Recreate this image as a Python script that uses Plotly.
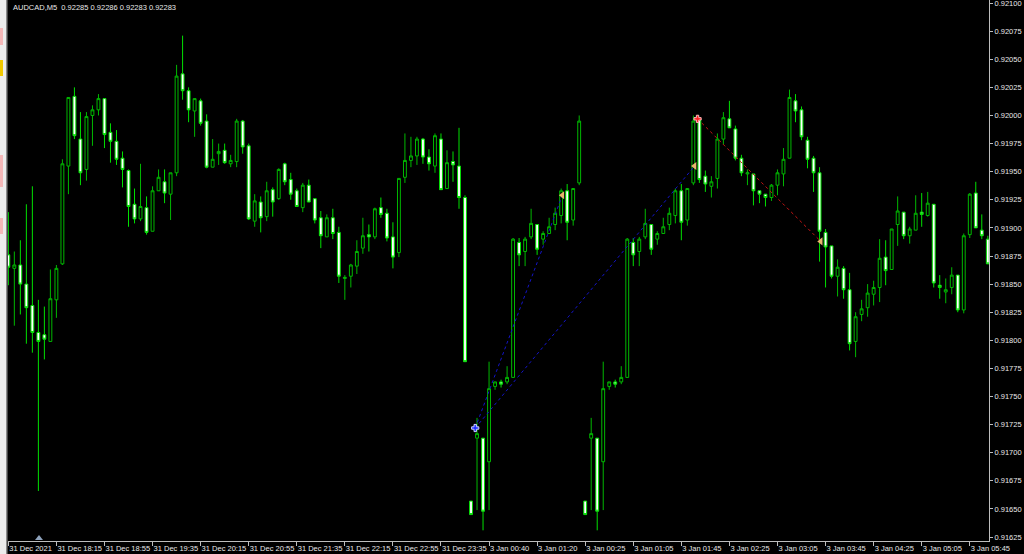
import plotly.graph_objects as go

# ---- data (AUDCAD M5 candles) ----
opens = [0.91876,0.91864,0.91867,0.91850,0.91831,0.91807,0.91805,0.91799,0.91836,0.91868,
         0.91955,0.92017,0.91979,0.91952,0.92000,0.92005,0.92015,0.91985,0.91977,0.91962,
         0.91951,0.91921,0.91908,0.91918,0.91897,0.91933,0.91941,0.91930,0.91949,0.92037,
         0.92022,0.92004,0.92013,0.91995,0.91954,0.91966,0.91969,0.91957,0.91959,0.91995,
         0.91973,0.91906,0.91923,0.91910,0.91934,0.91926,0.91957,0.91943,0.91933,0.91918,
         0.91938,0.91926,0.91909,0.91892,0.91909,0.91896,0.91855,0.91857,0.91866,0.91882,
         0.91894,0.91892,0.91918,0.91913,0.91892,0.91878,0.91945,0.91960,0.91964,0.91979,
         0.91963,0.91955,0.91979,0.91935,0.91959,0.91955,0.91927,
         0.91657,0.91713,0.91713,0.91692,0.91759,0.91763,0.91763,0.91767,0.91887,0.91879,
         0.91892,0.91903,0.91890,0.91895,0.91903,0.91911,0.91933,0.91907,0.91940,
         0.91657,0.91713,0.91713,0.91692,0.91759,0.91763,0.91763,0.91767,0.91887,0.91879,
         0.91892,0.91903,0.91890,0.91895,0.91903,0.91911,0.91933,0.91907,0.91940,
         0.91996,0.91946,0.91937,0.91944,0.91979,0.91997,0.91988,0.91962,0.91948,0.91948,
         0.91933,0.91930,0.91927,0.91938,0.91948,0.91962,0.92013,0.92005,0.91978,0.91962,
         0.91949,0.91896,0.91884,0.91857,0.91864,0.91845,0.91799,0.91823,0.91829,0.91841,
         0.91847,0.91874,0.91863,0.91903,0.91914,0.91893,0.91898,0.91914,0.91911,0.91921,
         0.91849,0.91843,0.91847,0.91858,0.91827,0.91894,0.91931,0.91898,0.91890]
highs = [0.91914,0.91879,0.91889,0.91921,0.91937,0.91836,0.91830,0.91863,0.91867,0.91961,
         0.92016,0.92025,0.92003,0.92003,0.92009,0.92019,0.92015,0.91993,0.91987,0.91968,
         0.91952,0.91935,0.91957,0.91928,0.91937,0.91952,0.91952,0.91949,0.92045,0.92071,
         0.92025,0.92015,0.92015,0.92001,0.91979,0.91975,0.91975,0.91965,0.91997,0.91996,
         0.91975,0.91930,0.91928,0.91941,0.91936,0.91953,0.91958,0.91949,0.91935,0.91940,
         0.91943,0.91926,0.91915,0.91912,0.91917,0.91901,0.91858,0.91868,0.91889,0.91909,
         0.91903,0.91918,0.91927,0.91917,0.91905,0.91944,0.91984,0.91981,0.91981,0.91980,
         0.91970,0.91984,0.91984,0.91969,0.91968,0.91989,0.91929,
         0.91657,0.91731,0.91713,0.91781,0.91763,0.91765,0.91777,0.91891,0.91891,0.91892,
         0.91917,0.91903,0.91897,0.91909,0.91918,0.91935,0.91939,0.91935,0.92000,
         0.91657,0.91731,0.91713,0.91781,0.91763,0.91765,0.91777,0.91891,0.91891,0.91892,
         0.91917,0.91903,0.91897,0.91909,0.91918,0.91935,0.91939,0.91935,0.92000,
         0.91998,0.91951,0.91946,0.91984,0.92003,0.92013,0.91991,0.91965,0.91952,0.91948,
         0.91933,0.91930,0.91939,0.91952,0.91971,0.92023,0.92019,0.92008,0.91981,0.91964,
         0.91954,0.91899,0.91884,0.91872,0.91866,0.91860,0.91825,0.91836,0.91850,0.91853,
         0.91890,0.91889,0.91899,0.91928,0.91914,0.91901,0.91929,0.91931,0.91932,0.91921,
         0.91858,0.91855,0.91865,0.91858,0.91895,0.91931,0.91941,0.91912,0.91893]
lows = [0.91849,0.91813,0.91823,0.91797,0.91789,0.91666,0.91783,0.91799,0.91820,0.91867,
        0.91930,0.91979,0.91938,0.91942,0.91973,0.92000,0.91971,0.91958,0.91956,0.91936,
        0.91901,0.91904,0.91906,0.91894,0.91897,0.91933,0.91922,0.91907,0.91946,0.92014,
        0.91994,0.91981,0.91991,0.91953,0.91954,0.91956,0.91957,0.91954,0.91954,0.91966,
        0.91907,0.91901,0.91896,0.91906,0.91910,0.91925,0.91938,0.91925,0.91919,0.91914,
        0.91923,0.91904,0.91882,0.91892,0.91890,0.91851,0.91836,0.91847,0.91859,0.91877,
        0.91879,0.91890,0.91909,0.91888,0.91864,0.91874,0.91940,0.91954,0.91956,0.91957,
        0.91951,0.91949,0.91934,0.91935,0.91941,0.91917,0.91781,
        0.91645,0.91649,0.91631,0.91649,0.91756,0.91758,0.91761,0.91767,0.91866,0.91866,
        0.91890,0.91876,0.91885,0.91895,0.91898,0.91904,0.91889,0.91902,0.91938,
        0.91645,0.91649,0.91631,0.91649,0.91756,0.91758,0.91761,0.91767,0.91866,0.91866,
        0.91890,0.91876,0.91885,0.91895,0.91898,0.91904,0.91889,0.91902,0.91938,
        0.91940,0.91932,0.91927,0.91935,0.91974,0.91989,0.91960,0.91946,0.91938,0.91920,
        0.91922,0.91919,0.91924,0.91929,0.91937,0.91962,0.91994,0.91978,0.91953,0.91932,
        0.91870,0.91847,0.91855,0.91839,0.91837,0.91791,0.91785,0.91817,0.91821,0.91831,
        0.91834,0.91849,0.91863,0.91884,0.91890,0.91886,0.91898,0.91901,0.91910,0.91847,
        0.91837,0.91833,0.91841,0.91825,0.91824,0.91891,0.91900,0.91890,0.91868]
closes = [0.91865,0.91867,0.91850,0.91829,0.91807,0.91799,0.91801,0.91837,0.91864,0.91957,
          0.92016,0.91982,0.91949,0.91999,0.92005,0.92015,0.91983,0.91977,0.91961,0.91952,
          0.91919,0.91908,0.91919,0.91896,0.91933,0.91945,0.91931,0.91949,0.92035,0.92022,
          0.92005,0.92015,0.91993,0.91954,0.91961,0.91968,0.91958,0.91960,0.91995,0.91972,
          0.91908,0.91924,0.91909,0.91933,0.91923,0.91952,0.91941,0.91930,0.91919,0.91938,
          0.91923,0.91907,0.91893,0.91909,0.91895,0.91857,0.91856,0.91867,0.91879,0.91893,
          0.91892,0.91917,0.91912,0.91891,0.91874,0.91944,0.91960,0.91964,0.91979,0.91963,
          0.91957,0.91982,0.91934,0.91958,0.91956,0.91927,0.91781,
          0.91645,0.91717,0.91648,0.91757,0.91763,0.91761,0.91767,0.91890,0.91876,0.91890,
          0.91904,0.91881,0.91895,0.91901,0.91913,0.91933,0.91905,0.91935,0.91995,
          0.91645,0.91717,0.91648,0.91757,0.91763,0.91761,0.91767,0.91890,0.91876,0.91890,
          0.91904,0.91881,0.91895,0.91901,0.91913,0.91933,0.91905,0.91935,0.91995,
          0.91943,0.91939,0.91941,0.91979,0.91998,0.91989,0.91962,0.91949,0.91949,0.91933,
          0.91930,0.91927,0.91938,0.91949,0.91961,0.92016,0.92004,0.91981,0.91961,0.91949,
          0.91897,0.91883,0.91857,0.91865,0.91845,0.91797,0.91821,0.91828,0.91842,0.91847,
          0.91873,0.91862,0.91899,0.91915,0.91893,0.91899,0.91913,0.91912,0.91922,0.91851,
          0.91847,0.91845,0.91858,0.91827,0.91893,0.91930,0.91900,0.91893,0.91868]

bar_index = list(range(len(opens)))

time_tick_index = list(range(0, 161, 8))
time_tick_labels = ["31 Dec 2021", "31 Dec 18:15", "31 Dec 18:55", "31 Dec 19:35",
                    "31 Dec 20:15", "31 Dec 20:55", "31 Dec 21:35", "31 Dec 22:15",
                    "31 Dec 22:55", "31 Dec 23:35", "3 Jan 00:40", "3 Jan 01:20",
                    "3 Jan 00:25", "3 Jan 01:05", "3 Jan 01:45", "3 Jan 02:25",
                    "3 Jan 03:05", "3 Jan 03:45", "3 Jan 04:25", "3 Jan 05:05",
                    "3 Jan 05:45"]

price_ticks = [0.91625, 0.91650, 0.91675, 0.91700, 0.91725, 0.91750, 0.91775, 0.91800,
               0.91825, 0.91850, 0.91875, 0.91900, 0.91925, 0.91950, 0.91975, 0.92000,
               0.92025, 0.92050, 0.92075, 0.92100]

# trade history arrows (bar position, price)
buy_open_x = [77.7, 77.7]
buy_open_price = [0.91722, 0.91722]
buy_close_x = [92.2, 114.2]
buy_close_price = [0.91929, 0.91955]
sell_open_x = [114.7]
sell_open_price = [0.91997]
sell_close_x = [135.2]
sell_close_price = [0.91888]

header_text = "AUDCAD,M5  0.92285 0.92286 0.92283 0.92283"

FONT = "Liberation Sans"
TXT = "#e8e8e8"

fig = go.Figure()

fig.add_trace(go.Candlestick(
    x=bar_index, open=opens, high=highs, low=lows, close=closes,
    increasing=dict(line=dict(color="#00b800", width=1), fillcolor="#000000"),
    decreasing=dict(line=dict(color="#00e000", width=1), fillcolor="#ffffff"),
    whiskerwidth=0, hoverinfo="skip", showlegend=False,
))

# dotted trade lines
for x0, y0, x1, y1 in zip(buy_open_x, buy_open_price, buy_close_x, buy_close_price):
    fig.add_trace(go.Scatter(x=[x0, x1], y=[y0, y1], mode="lines",
                             line=dict(color="#1414c8", width=1, dash="dot"),
                             showlegend=False, hoverinfo="skip"))
for x0, y0, x1, y1 in zip(sell_open_x, sell_open_price, sell_close_x, sell_close_price):
    fig.add_trace(go.Scatter(x=[x0, x1], y=[y0, y1], mode="lines",
                             line=dict(color="#c81414", width=1, dash="dot"),
                             showlegend=False, hoverinfo="skip"))

fig.add_trace(go.Scatter(x=buy_open_x[:1], y=buy_open_price[:1], mode="markers",
                         marker=dict(symbol="cross", size=6, color="#2030ff",
                                     line=dict(color="#d0d0ff", width=1)),
                         showlegend=False, hoverinfo="skip"))
fig.add_trace(go.Scatter(x=buy_close_x + sell_close_x,
                         y=buy_close_price + sell_close_price, mode="markers",
                         marker=dict(symbol="triangle-left", size=7, color="#e8b46c"),
                         showlegend=False, hoverinfo="skip"))
fig.add_trace(go.Scatter(x=sell_open_x, y=sell_open_price, mode="markers",
                         marker=dict(symbol="cross", size=6, color="#ff2020",
                                     line=dict(color="#ffc0c0", width=1)),
                         showlegend=False, hoverinfo="skip"))

W, H = 1024, 554
ML, MR, MT, MB = 8, 35, 0, 13
PW = W - ML - MR
PH = H - MT - MB

def px(xp):
    return (xp - ML) / PW

def py(yp):
    return (H - MB - yp) / PH

shapes = [
    dict(type="rect", xref="paper", yref="paper", x0=px(0), x1=px(6), y0=py(H), y1=py(0),
         fillcolor="#ececec", line=dict(width=0), layer="above"),
    dict(type="rect", xref="paper", yref="paper", x0=px(6), x1=px(7.5), y0=py(H), y1=py(0),
         fillcolor="#8a8a8a", line=dict(width=0), layer="above"),
    dict(type="rect", xref="paper", yref="paper", x0=px(0), x1=px(3), y0=py(45), y1=py(28),
         fillcolor="#f4b8b8", line=dict(width=0), layer="above"),
    dict(type="rect", xref="paper", yref="paper", x0=px(0), x1=px(3), y0=py(76), y1=py(60),
         fillcolor="#f0c800", line=dict(width=0), layer="above"),
    dict(type="rect", xref="paper", yref="paper", x0=px(0), x1=px(3), y0=py(187), y1=py(155),
         fillcolor="#f4b8b8", line=dict(width=0), layer="above"),
    dict(type="rect", xref="paper", yref="paper", x0=px(0), x1=px(3), y0=py(234), y1=py(218),
         fillcolor="#f4b8b8", line=dict(width=0), layer="above"),
    # chart shift marker at the bottom
    dict(type="path", xref="paper", yref="paper",
         path=f"M {px(35)} {py(540)} L {px(43)} {py(540)} L {px(39)} {py(535)} Z",
         fillcolor="#8ea2bc", line=dict(width=0), layer="above"),
]

fig.update_layout(
    width=W, height=H,
    margin=dict(l=ML, r=MR, t=MT, b=MB, pad=0, autoexpand=False),
    paper_bgcolor="#000000", plot_bgcolor="#000000",
    font=dict(family=FONT, size=7.5, color=TXT),
    showlegend=False,
    boxgap=0.32,
    shapes=shapes,
    xaxis=dict(
        range=[-0.055, 163.2], rangeslider=dict(visible=False),
        showgrid=False, zeroline=False, automargin=False,
        showline=True, linecolor="#bdbdbd", linewidth=1, mirror=False,
        tickmode="array", tickvals=time_tick_index, ticktext=time_tick_labels,
        ticks="outside", ticklen=4, tickwidth=1, tickcolor="#bdbdbd",
        tickangle=0, ticklabelposition="outside right", ticklabelstandoff=0,
        ticklabeloverflow="allow",
        tickfont=dict(family=FONT, size=7.5, color=TXT),
        fixedrange=True,
    ),
    yaxis=dict(
        side="right", range=[0.916215, 0.921027], automargin=False,
        showgrid=False, zeroline=False,
        showline=True, linecolor="#bdbdbd", linewidth=1,
        tickmode="array", tickvals=price_ticks,
        ticktext=[f"{v:.5f}" for v in price_ticks],
        ticks="outside", ticklen=3, tickwidth=1, tickcolor="#bdbdbd",
        ticklabeloverflow="allow",
        tickfont=dict(family=FONT, size=7.5, color=TXT),
        fixedrange=True,
    ),
    annotations=[dict(text=header_text, xref="paper", yref="paper",
                      x=px(11), y=py(1), xanchor="left", yanchor="top",
                      showarrow=False, font=dict(family=FONT, size=7.5, color=TXT))],
)

fig.write_html(
    "out.html",
    config={"displayModeBar": False, "staticPlot": True},
    post_script="document.body.style.margin='0';document.body.style.padding='0';"
                "document.body.style.background='#000';",
)
